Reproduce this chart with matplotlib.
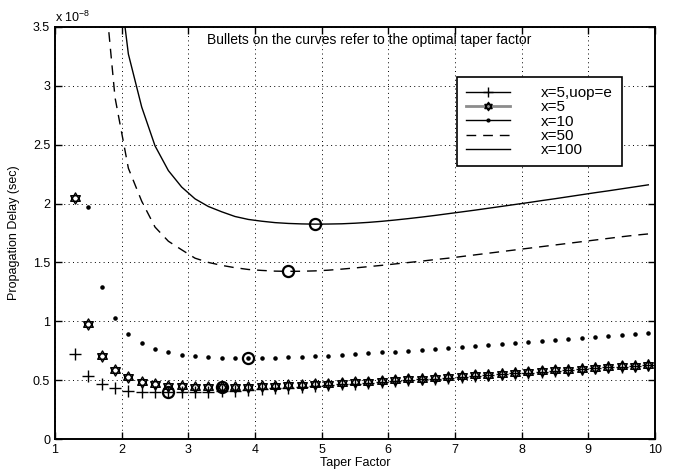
import numpy as np
import matplotlib
matplotlib.use("Agg")
import matplotlib.pyplot as plt
from matplotlib.path import Path
from matplotlib.lines import Line2D

plt.rcParams["font.family"] = ["Liberation Sans", "DejaVu Sans"]

# taper factor grid (same for every curve)
taper = [1.3, 1.5, 1.7, 1.9, 2.1, 2.3, 2.5, 2.7, 2.9, 3.1, 3.3, 3.5, 3.7, 3.9,
         4.1, 4.3, 4.5, 4.7, 4.9, 5.1, 5.3, 5.5, 5.7, 5.9, 6.1, 6.3, 6.5, 6.7,
         6.9, 7.1, 7.3, 7.5, 7.7, 7.9, 8.1, 8.3, 8.5, 8.7, 8.9, 9.1, 9.3, 9.5,
         9.7, 9.9]

# propagation delay, units of 1e-8 s
d_x5_uope = [0.722, 0.539, 0.467, 0.431, 0.412, 0.402, 0.398, 0.396, 0.397, 0.399,
             0.403, 0.407, 0.412, 0.418, 0.423, 0.430, 0.436, 0.442, 0.449, 0.456,
             0.463, 0.470, 0.477, 0.484, 0.491, 0.499, 0.506, 0.513, 0.520, 0.528,
             0.535, 0.542, 0.550, 0.557, 0.564, 0.571, 0.579, 0.586, 0.593, 0.600,
             0.608, 0.615, 0.622, 0.629]
d_x5 = [2.047, 0.978, 0.706, 0.587, 0.524, 0.487, 0.468, 0.453, 0.447, 0.444,
        0.441, 0.440, 0.441, 0.444, 0.447, 0.451, 0.455, 0.460, 0.465, 0.471,
        0.477, 0.482, 0.488, 0.494, 0.500, 0.506, 0.513, 0.519, 0.526, 0.533,
        0.540, 0.547, 0.554, 0.561, 0.568, 0.575, 0.582, 0.589, 0.596, 0.603,
        0.610, 0.617, 0.624, 0.631]
d_x10 = [np.nan, 1.970, 1.295, 1.029, 0.893, 0.814, 0.765, 0.737, 0.714, 0.703,
         0.694, 0.690, 0.688, 0.688, 0.689, 0.691, 0.694, 0.697, 0.703, 0.708,
         0.714, 0.721, 0.728, 0.735, 0.742, 0.750, 0.757, 0.765, 0.773, 0.782,
         0.790, 0.799, 0.807, 0.816, 0.824, 0.833, 0.842, 0.850, 0.859, 0.868,
         0.877, 0.886, 0.895, 0.904]
d_x50 = [9.8, 5.8, 4.1, 2.90, 2.30, 2.02, 1.80, 1.68, 1.607, 1.536,
         1.500, 1.475, 1.455, 1.440, 1.432, 1.426, 1.424, 1.425, 1.428, 1.434,
         1.443, 1.453, 1.464, 1.475, 1.487, 1.499, 1.511, 1.524, 1.536, 1.550,
         1.564, 1.578, 1.592, 1.606, 1.620, 1.634, 1.648, 1.662, 1.676, 1.690,
         1.704, 1.718, 1.731, 1.742]
d_x100 = [15.0, 9.8, 6.4, 4.19, 3.27, 2.82, 2.49, 2.28, 2.14, 2.04,
          1.975, 1.930, 1.890, 1.865, 1.850, 1.838, 1.831, 1.827, 1.825, 1.826,
          1.828, 1.833, 1.840, 1.849, 1.860, 1.872, 1.885, 1.899, 1.914, 1.929,
          1.944, 1.960, 1.976, 1.992, 2.008, 2.025, 2.041, 2.058, 2.075, 2.092,
          2.108, 2.125, 2.142, 2.159]

# optimal taper factor per curve (the bullets)
opt_f = [2.7, 3.5, 3.9, 4.5, 4.9]
opt_d = [0.396, 0.440, 0.690, 1.424, 1.825]

labels = ["x=5,uop=e", "x=5", "x=10", "x=50", "x=100"]

# star-of-david marker: two overlapping triangles
a = np.deg2rad([90, 210, 330])
up = np.c_[np.cos(a), np.sin(a)]
dn = -up
verts = np.r_[up, up[:1], dn, dn[:1]]
codes = [Path.MOVETO, Path.LINETO, Path.LINETO, Path.CLOSEPOLY] * 2
hexagram = Path(verts, codes)

DASH = (0, (7, 5))

fig = plt.figure(figsize=(6.88, 4.72), dpi=100)
ax = fig.add_axes([0.080, 0.0699, 0.872, 0.873])

ax.plot(taper, d_x5_uope, ls="none", marker="+", ms=8, mew=1.0, color="k")
ax.plot(taper, d_x5, ls="none", marker=hexagram, ms=8, mew=1.0, mfc="none", color="k")
ax.plot(taper, d_x10, ls="none", marker=".", ms=4.5, color="k")
ax.plot(taper, d_x50, ls=DASH, lw=1.0, color="k")
ax.plot(taper, d_x100, ls="-", lw=1.0, color="k")
ax.plot(opt_f, opt_d, ls="none", marker="o", ms=8, mew=1.6, mfc="none", color="k")

ax.set_xlim(1, 10)
ax.set_ylim(0, 3.5)
ax.set_xticks(range(1, 11))
ax.set_yticks(np.arange(0, 3.51, 0.5))
ax.yaxis.set_major_formatter(plt.FormatStrFormatter("%g"))
ax.grid(True, ls=(0, (1, 3.5)), lw=0.7, color="k")
ax.tick_params(direction="in", top=True, right=True, length=5, width=1, labelsize=9)
for s in ax.spines.values():
    s.set_linewidth(1.4)

ax.set_xlabel("Taper Factor", fontsize=9, labelpad=1)
ax.set_ylabel("Propagation Delay (sec)", fontsize=9, labelpad=9)
ax.text(0, 1.004, r"x 10$^{\mathregular{-8}}$", transform=ax.transAxes,
        ha="left", va="bottom", fontsize=9)
ax.text(5.72, 3.39, "Bullets on the curves refer to the optimal taper factor",
        ha="center", va="center", fontsize=10)

handles = [
    Line2D([], [], color="k", lw=1, marker="+", ms=7),
    Line2D([], [], color="0.55", lw=2, marker=hexagram, ms=6, mfc="none", mec="k"),
    Line2D([], [], color="k", lw=1, marker=".", ms=4),
    Line2D([], [], color="k", lw=1, ls=DASH),
    Line2D([], [], color="k", lw=1),
]
leg = ax.legend(handles, labels, loc="upper left", bbox_to_anchor=(0.67, 0.879),
                fontsize=11, frameon=True, fancybox=False, framealpha=1,
                edgecolor="k", handlelength=2.9, handletextpad=2.0,
                labelspacing=0.02, borderpad=0.6, borderaxespad=0)
leg.get_frame().set_linewidth(1.2)

fig.savefig("out.png", dpi=100)
